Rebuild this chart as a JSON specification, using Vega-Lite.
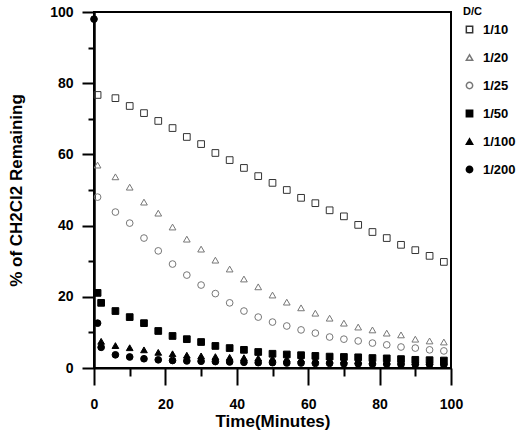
{
  "$schema": "https://vega.github.io/schema/vega-lite/v6.json",
  "autosize": {"type": "none"},
  "width": 357,
  "height": 356,
  "padding": {"left": 94, "top": 12, "right": 71, "bottom": 68},
  "background": "white",
  "config": {
    "view": {"stroke": "black", "strokeWidth": 2},
    "font": "Liberation Sans"
  },
  "datasets": {
    "d": [
      {"dc": "1/10", "t": 1, "p": 76.7}, {"dc": "1/10", "t": 6, "p": 75.8}, {"dc": "1/10", "t": 10, "p": 73.6}, {"dc": "1/10", "t": 14, "p": 71.6}, {"dc": "1/10", "t": 18, "p": 69.4}, {"dc": "1/10", "t": 22, "p": 67.4}, {"dc": "1/10", "t": 26, "p": 64.9}, {"dc": "1/10", "t": 30, "p": 62.9}, {"dc": "1/10", "t": 34, "p": 60.4}, {"dc": "1/10", "t": 38, "p": 58.4}, {"dc": "1/10", "t": 42, "p": 56.2}, {"dc": "1/10", "t": 46, "p": 53.9}, {"dc": "1/10", "t": 50, "p": 52.0}, {"dc": "1/10", "t": 54, "p": 50.0}, {"dc": "1/10", "t": 58, "p": 47.8}, {"dc": "1/10", "t": 62, "p": 46.3}, {"dc": "1/10", "t": 66, "p": 44.3}, {"dc": "1/10", "t": 70, "p": 42.6}, {"dc": "1/10", "t": 74, "p": 40.2}, {"dc": "1/10", "t": 78, "p": 38.2}, {"dc": "1/10", "t": 82, "p": 36.5}, {"dc": "1/10", "t": 86, "p": 34.6}, {"dc": "1/10", "t": 90, "p": 33.1}, {"dc": "1/10", "t": 94, "p": 31.5}, {"dc": "1/10", "t": 98, "p": 29.8},
      {"dc": "1/20", "t": 1, "p": 57.0}, {"dc": "1/20", "t": 6, "p": 53.7}, {"dc": "1/20", "t": 10, "p": 50.8}, {"dc": "1/20", "t": 14, "p": 46.6}, {"dc": "1/20", "t": 18, "p": 43.5}, {"dc": "1/20", "t": 22, "p": 39.6}, {"dc": "1/20", "t": 26, "p": 36.2}, {"dc": "1/20", "t": 30, "p": 33.4}, {"dc": "1/20", "t": 34, "p": 30.3}, {"dc": "1/20", "t": 38, "p": 27.8}, {"dc": "1/20", "t": 42, "p": 25.0}, {"dc": "1/20", "t": 46, "p": 22.8}, {"dc": "1/20", "t": 50, "p": 20.5}, {"dc": "1/20", "t": 54, "p": 18.5}, {"dc": "1/20", "t": 58, "p": 16.9}, {"dc": "1/20", "t": 62, "p": 15.4}, {"dc": "1/20", "t": 66, "p": 14.0}, {"dc": "1/20", "t": 70, "p": 12.6}, {"dc": "1/20", "t": 74, "p": 11.5}, {"dc": "1/20", "t": 78, "p": 10.7}, {"dc": "1/20", "t": 82, "p": 9.8}, {"dc": "1/20", "t": 86, "p": 9.3}, {"dc": "1/20", "t": 90, "p": 8.1}, {"dc": "1/20", "t": 94, "p": 7.6}, {"dc": "1/20", "t": 98, "p": 7.3},
      {"dc": "1/25", "t": 1, "p": 48.0}, {"dc": "1/25", "t": 6, "p": 43.8}, {"dc": "1/25", "t": 10, "p": 40.7}, {"dc": "1/25", "t": 14, "p": 36.5}, {"dc": "1/25", "t": 18, "p": 32.9}, {"dc": "1/25", "t": 22, "p": 29.2}, {"dc": "1/25", "t": 26, "p": 26.1}, {"dc": "1/25", "t": 30, "p": 23.3}, {"dc": "1/25", "t": 34, "p": 20.9}, {"dc": "1/25", "t": 38, "p": 18.3}, {"dc": "1/25", "t": 42, "p": 16.0}, {"dc": "1/25", "t": 46, "p": 14.3}, {"dc": "1/25", "t": 50, "p": 12.9}, {"dc": "1/25", "t": 54, "p": 11.8}, {"dc": "1/25", "t": 58, "p": 10.7}, {"dc": "1/25", "t": 62, "p": 9.8}, {"dc": "1/25", "t": 66, "p": 8.7}, {"dc": "1/25", "t": 70, "p": 8.1}, {"dc": "1/25", "t": 74, "p": 7.6}, {"dc": "1/25", "t": 78, "p": 7.0}, {"dc": "1/25", "t": 82, "p": 6.5}, {"dc": "1/25", "t": 86, "p": 5.9}, {"dc": "1/25", "t": 90, "p": 5.6}, {"dc": "1/25", "t": 94, "p": 5.1}, {"dc": "1/25", "t": 98, "p": 4.8},
      {"dc": "1/200", "t": 0, "p": 98.0}, {"dc": "1/200", "t": 1, "p": 12.6}, {"dc": "1/200", "t": 2, "p": 5.8}, {"dc": "1/200", "t": 6, "p": 3.7}, {"dc": "1/200", "t": 10, "p": 3.1}, {"dc": "1/200", "t": 14, "p": 2.6}, {"dc": "1/200", "t": 18, "p": 2.3}, {"dc": "1/200", "t": 22, "p": 2.1}, {"dc": "1/200", "t": 26, "p": 2.0}, {"dc": "1/200", "t": 30, "p": 1.9}, {"dc": "1/200", "t": 34, "p": 1.8}, {"dc": "1/200", "t": 38, "p": 1.7}, {"dc": "1/200", "t": 42, "p": 1.6}, {"dc": "1/200", "t": 46, "p": 1.5}, {"dc": "1/200", "t": 50, "p": 1.5}, {"dc": "1/200", "t": 54, "p": 1.4}, {"dc": "1/200", "t": 58, "p": 1.4}, {"dc": "1/200", "t": 62, "p": 1.3}, {"dc": "1/200", "t": 66, "p": 1.3}, {"dc": "1/200", "t": 70, "p": 1.2}, {"dc": "1/200", "t": 74, "p": 1.2}, {"dc": "1/200", "t": 78, "p": 1.1}, {"dc": "1/200", "t": 82, "p": 1.1}, {"dc": "1/200", "t": 86, "p": 1.0}, {"dc": "1/200", "t": 90, "p": 1.0}, {"dc": "1/200", "t": 94, "p": 1.0}, {"dc": "1/200", "t": 98, "p": 0.9},
      {"dc": "1/100", "t": 2, "p": 7.5}, {"dc": "1/100", "t": 6, "p": 6.3}, {"dc": "1/100", "t": 10, "p": 5.7}, {"dc": "1/100", "t": 14, "p": 5.1}, {"dc": "1/100", "t": 18, "p": 4.4}, {"dc": "1/100", "t": 22, "p": 4.0}, {"dc": "1/100", "t": 26, "p": 3.6}, {"dc": "1/100", "t": 30, "p": 3.4}, {"dc": "1/100", "t": 34, "p": 3.2}, {"dc": "1/100", "t": 38, "p": 3.0}, {"dc": "1/100", "t": 42, "p": 2.9}, {"dc": "1/100", "t": 46, "p": 2.8}, {"dc": "1/100", "t": 50, "p": 2.7}, {"dc": "1/100", "t": 54, "p": 2.6}, {"dc": "1/100", "t": 58, "p": 2.5}, {"dc": "1/100", "t": 62, "p": 2.4}, {"dc": "1/100", "t": 66, "p": 2.3}, {"dc": "1/100", "t": 70, "p": 2.2}, {"dc": "1/100", "t": 74, "p": 2.1}, {"dc": "1/100", "t": 78, "p": 2.0}, {"dc": "1/100", "t": 82, "p": 1.9}, {"dc": "1/100", "t": 86, "p": 1.9}, {"dc": "1/100", "t": 90, "p": 1.8}, {"dc": "1/100", "t": 94, "p": 1.8}, {"dc": "1/100", "t": 98, "p": 1.7},
      {"dc": "1/50", "t": 1, "p": 21.1}, {"dc": "1/50", "t": 2, "p": 18.3}, {"dc": "1/50", "t": 6, "p": 16.0}, {"dc": "1/50", "t": 10, "p": 14.3}, {"dc": "1/50", "t": 14, "p": 12.6}, {"dc": "1/50", "t": 18, "p": 10.4}, {"dc": "1/50", "t": 22, "p": 9.0}, {"dc": "1/50", "t": 26, "p": 8.1}, {"dc": "1/50", "t": 30, "p": 7.3}, {"dc": "1/50", "t": 34, "p": 6.2}, {"dc": "1/50", "t": 38, "p": 5.6}, {"dc": "1/50", "t": 42, "p": 5.1}, {"dc": "1/50", "t": 46, "p": 4.5}, {"dc": "1/50", "t": 50, "p": 4.0}, {"dc": "1/50", "t": 54, "p": 3.8}, {"dc": "1/50", "t": 58, "p": 3.6}, {"dc": "1/50", "t": 62, "p": 3.4}, {"dc": "1/50", "t": 66, "p": 3.2}, {"dc": "1/50", "t": 70, "p": 3.1}, {"dc": "1/50", "t": 74, "p": 3.0}, {"dc": "1/50", "t": 78, "p": 2.8}, {"dc": "1/50", "t": 82, "p": 2.7}, {"dc": "1/50", "t": 86, "p": 2.5}, {"dc": "1/50", "t": 90, "p": 2.3}, {"dc": "1/50", "t": 94, "p": 2.2}, {"dc": "1/50", "t": 98, "p": 2.1}
    ]
  },
  "data": {"name": "d"},
  "mark": {"type": "point", "size": 45, "strokeWidth": 1, "opacity": 1},
  "encoding": {
    "x": {
      "field": "t", "type": "quantitative",
      "scale": {"domain": [0, 100], "nice": false, "zero": false},
      "axis": {
        "title": "Time(Minutes)",
        "values": [0, 10, 20, 30, 40, 50, 60, 70, 80, 90, 100],
        "labelExpr": "datum.value % 20 === 0 ? datum.label : ''",
        "grid": false,
        "domainColor": "black", "domainWidth": 2,
        "tickColor": "black", "tickWidth": 2,
        "tickSize": {"condition": {"test": "datum.value % 20 === 0", "value": 17}, "value": 8},
        "labelPadding": 12,
        "labelFont": "Liberation Sans", "labelFontSize": 14, "labelFontWeight": "bold", "labelColor": "black",
        "labelFlush": false, "labelOverlap": false,
        "titleFont": "Liberation Sans", "titleFontSize": 17, "titleFontWeight": "bold", "titleColor": "black",
        "titlePadding": 2
      }
    },
    "y": {
      "field": "p", "type": "quantitative",
      "scale": {"domain": [0, 100], "nice": false},
      "axis": {
        "title": "% of CH2Cl2 Remaining",
        "values": [0, 10, 20, 30, 40, 50, 60, 70, 80, 90, 100],
        "labelExpr": "datum.value % 20 === 0 ? datum.label : ''",
        "grid": false,
        "domainColor": "black", "domainWidth": 2.5,
        "tickColor": "black", "tickWidth": 2,
        "tickSize": {"condition": {"test": "datum.value % 20 === 0", "value": 12}, "value": 6},
        "labelPadding": 9,
        "labelFont": "Liberation Sans", "labelFontSize": 14, "labelFontWeight": "bold", "labelColor": "black",
        "labelFlush": false, "labelOverlap": false,
        "titleFont": "Liberation Sans", "titleFontSize": 17, "titleFontWeight": "bold", "titleColor": "black",
        "titlePadding": 24
      }
    },
    "shape": {
      "field": "dc", "type": "nominal",
      "scale": {"domain": ["1/10", "1/20", "1/25", "1/50", "1/100", "1/200"], "range": ["square", "triangle-up", "circle", "square", "triangle-up", "circle"]},
      "legend": {
        "title": "D/C", "orient": "none", "legendX": 369, "legendY": -6,
        "titleFont": "Liberation Sans", "titleFontSize": 11, "titleFontWeight": "bold", "titleColor": "black", "titlePadding": 6,
        "labelFont": "Liberation Sans", "labelFontSize": 13, "labelFontWeight": "bold", "labelColor": "black",
        "symbolSize": 40, "rowPadding": 14, "labelOffset": 7
      }
    },
    "fill": {
      "field": "dc", "type": "nominal",
      "scale": {"domain": ["1/10", "1/20", "1/25", "1/50", "1/100", "1/200"], "range": ["transparent", "transparent", "transparent", "black", "black", "black"]},
      "legend": null
    },
    "stroke": {
      "field": "dc", "type": "nominal",
      "scale": {"domain": ["1/10", "1/20", "1/25", "1/50", "1/100", "1/200"], "range": ["#333333", "#777777", "#777777", "black", "black", "black"]},
      "legend": null
    }
  }
}
